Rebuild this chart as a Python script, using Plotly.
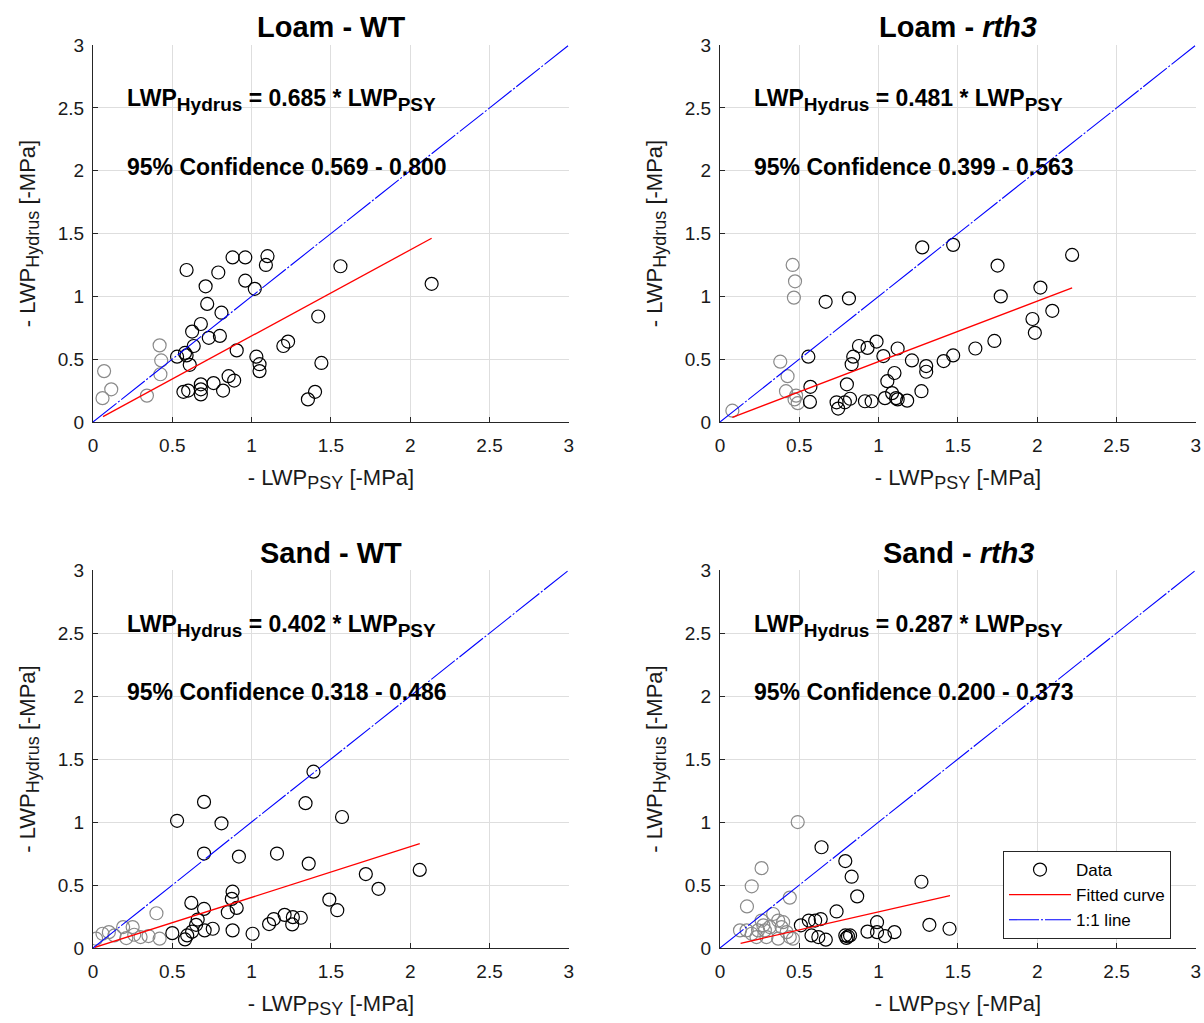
import plotly.graph_objects as go

# ---------------- data ----------------
titles = ["<b>Loam - WT</b>", "<b>Loam - <i>rth3</i></b>", "<b>Sand - WT</b>", "<b>Sand - <i>rth3</i></b>"]
slopes = [0.685, 0.481, 0.402, 0.287]
conf_lo = ["0.569", "0.399", "0.318", "0.200"]
conf_hi = ["0.800", "0.563", "0.486", "0.373"]
fit_x_range = [[0.063, 2.135], [0.078, 2.22], [0.01, 2.06], [0.13, 1.45]]

# Loam - WT
lwt_grey_x = [0.07, 0.115, 0.06, 0.42, 0.43, 0.425, 0.34]
lwt_grey_y = [0.405, 0.26, 0.19, 0.61, 0.49, 0.38, 0.21]
lwt_x = [0.59, 0.88, 0.96, 1.10, 1.09, 1.56, 2.135, 0.79, 0.96, 1.02, 0.71, 0.72, 0.81, 0.68, 0.625,
         0.73, 0.80, 0.635, 0.58, 0.53, 0.59, 0.61, 0.906, 1.42, 1.23, 1.20, 1.03, 1.05, 1.05, 1.44,
         0.855, 0.89, 0.76, 0.82, 0.68, 0.68, 0.68, 0.60, 0.57, 1.40, 1.355]
lwt_y = [1.21, 1.31, 1.31, 1.32, 1.25, 1.24, 1.10, 1.19, 1.125, 1.06, 1.08, 0.94, 0.87, 0.78, 0.72,
         0.67, 0.685, 0.605, 0.55, 0.52, 0.53, 0.455, 0.57, 0.84, 0.64, 0.605, 0.52, 0.46, 0.405, 0.47,
         0.365, 0.33, 0.31, 0.25, 0.30, 0.26, 0.22, 0.25, 0.24, 0.24, 0.18]

# Loam - rth3
lr_grey_x = [0.458, 0.473, 0.466, 0.38, 0.426, 0.416, 0.48, 0.47, 0.49, 0.078]
lr_grey_y = [1.25, 1.12, 0.99, 0.48, 0.365, 0.245, 0.21, 0.18, 0.15, 0.09]
lr_x = [1.275, 1.47, 2.22, 1.75, 1.77, 2.02, 2.095, 1.97, 1.985, 1.73, 1.61, 1.47, 1.41, 1.21, 1.12,
        0.987, 0.93, 0.876, 0.84, 0.83, 1.03, 1.30, 1.30, 1.10, 1.055, 0.80, 1.085, 1.27, 1.04, 1.11,
        1.12, 1.18, 0.956, 0.914, 0.82, 0.787, 0.735, 0.745, 0.567, 0.57, 0.557, 0.666, 0.813]
lr_y = [1.39, 1.41, 1.33, 1.245, 1.00, 1.07, 0.885, 0.82, 0.71, 0.645, 0.585, 0.53, 0.485, 0.49, 0.585,
        0.64, 0.59, 0.605, 0.52, 0.46, 0.525, 0.445, 0.40, 0.39, 0.325, 0.30, 0.23, 0.245, 0.19, 0.19,
        0.18, 0.17, 0.165, 0.165, 0.185, 0.157, 0.157, 0.107, 0.16, 0.28, 0.52, 0.957, 0.984]

# Sand - WT
swt_grey_x = [0.40, 0.19, 0.25, 0.10, 0.06, 0.02, 0.21, 0.30, 0.35, 0.42, 0.135, 0.26]
swt_grey_y = [0.276, 0.166, 0.166, 0.126, 0.113, 0.074, 0.079, 0.087, 0.095, 0.074, 0.10, 0.105]
swt_x = [1.39, 0.70, 1.34, 0.53, 0.81, 1.57, 0.70, 0.92, 1.16, 1.36, 1.72, 2.06, 1.80, 1.49, 1.54,
         0.88, 0.875, 0.906, 0.85, 0.62, 0.70, 0.66, 0.65, 0.625, 0.594, 0.58, 0.704, 0.755, 0.88,
         0.50, 1.006, 1.11, 1.14, 1.208, 1.26, 1.31, 1.256]
swt_y = [1.40, 1.16, 1.15, 1.01, 0.99, 1.04, 0.75, 0.726, 0.75, 0.67, 0.587, 0.62, 0.47, 0.384, 0.30,
         0.447, 0.39, 0.318, 0.284, 0.358, 0.31, 0.226, 0.184, 0.13, 0.10, 0.068, 0.14, 0.153, 0.14,
         0.118, 0.113, 0.19, 0.23, 0.263, 0.245, 0.24, 0.187]

# Sand - rth3
sr_grey_x = [0.49, 0.262, 0.20, 0.17, 0.44, 0.126, 0.168, 0.23, 0.262, 0.283, 0.293, 0.335, 0.367,
             0.388, 0.42, 0.367, 0.44, 0.46, 0.314, 0.24, 0.20, 0.398, 0.273]
sr_grey_y = [1.00, 0.634, 0.49, 0.33, 0.40, 0.14, 0.14, 0.087, 0.218, 0.14, 0.087, 0.27, 0.218,
             0.166, 0.126, 0.074, 0.087, 0.074, 0.166, 0.14, 0.113, 0.205, 0.18]
sr_x = [0.64, 0.79, 0.83, 0.865, 0.735, 1.27, 1.32, 1.447, 0.99, 0.93, 0.99, 1.04, 1.10, 0.79, 0.807,
        0.797, 0.82, 0.51, 0.56, 0.60, 0.635, 0.577, 0.62, 0.667]
sr_y = [0.80, 0.69, 0.566, 0.41, 0.29, 0.526, 0.184, 0.153, 0.205, 0.13, 0.126, 0.095, 0.126, 0.10, 0.092,
        0.08, 0.10, 0.18, 0.218, 0.218, 0.23, 0.10, 0.087, 0.066]

grey_x = [lwt_grey_x, lr_grey_x, swt_grey_x, sr_grey_x]
grey_y = [lwt_grey_y, lr_grey_y, swt_grey_y, sr_grey_y]
data_x = [lwt_x, lr_x, swt_x, sr_x]
data_y = [lwt_y, lr_y, swt_y, sr_y]

tick_vals = [0, 0.5, 1, 1.5, 2, 2.5, 3]
tick_text = ["0", "0.5", "1", "1.5", "2", "2.5", "3"]
one_to_one = [0, 3]

# ---------------- layout geometry ----------------
W, H = 1204, 1023


def px_x(p):
    return p / W


def px_y(p):
    return 1 - p / H


x_doms = [[px_x(93), px_x(569)], [px_x(720), px_x(1196)]]
y_doms = [[px_y(422), px_y(45)], [px_y(948), px_y(570)]]
title_y = [px_y(27), px_y(553)]

FONT = "Liberation Sans, Arial, sans-serif"
SUB_AX = '<sub><span style="font-size:18px">%s</span></sub>'
SUB_EQ = '<sub><span style="font-size:19px">%s</span></sub>'

fig = go.Figure()
layout = dict(
    width=W, height=H, margin=dict(l=0, r=0, t=0, b=0),
    paper_bgcolor="white", plot_bgcolor="white",
    font=dict(family=FONT, color="#262626", size=18),
    annotations=[],
)

for i in range(4):
    r, c = divmod(i, 2)
    suf = "" if i == 0 else str(i + 1)
    xa, ya = "x" + suf, "y" + suf
    show = (i == 3)
    fig.add_trace(go.Scatter(x=grey_x[i], y=grey_y[i], mode="markers", xaxis=xa, yaxis=ya,
                             marker=dict(symbol="circle-open", size=13, color="#8a8a8a", line=dict(width=1.2)),
                             showlegend=False))
    fig.add_trace(go.Scatter(x=data_x[i], y=data_y[i], mode="markers", xaxis=xa, yaxis=ya, name="Data",
                             marker=dict(symbol="circle-open", size=13, color="black", line=dict(width=1.2)),
                             showlegend=show))
    fx = fit_x_range[i]
    fig.add_trace(go.Scatter(x=fx, y=[slopes[i] * v for v in fx], mode="lines", xaxis=xa, yaxis=ya,
                             name="Fitted curve", line=dict(color="red", width=1.3), showlegend=show))
    fig.add_trace(go.Scatter(x=one_to_one, y=one_to_one, mode="lines", xaxis=xa, yaxis=ya,
                             name="1:1 line", line=dict(color="blue", width=1.1, dash="30px,2px,2px,2px"),
                             showlegend=show))

    axis_common = dict(range=[0, 3.001], tickvals=tick_vals, ticktext=tick_text, showgrid=True,
                       gridcolor="#dedede", gridwidth=1, zeroline=False, showline=True,
                       linecolor="#262626", linewidth=1, ticks="inside", ticklen=5,
                       tickcolor="#262626", tickfont=dict(size=19, family=FONT, color="#1a1a1a"),
                       automargin=False, fixedrange=True)
    layout["xaxis" + suf] = dict(axis_common, domain=x_doms[c], anchor=ya, ticklabelstandoff=6,
                                 title=dict(text="- LWP" + SUB_AX % "PSY" + " [-MPa]",
                                            font=dict(size=22, color="#1a1a1a"), standoff=14))
    layout["yaxis" + suf] = dict(axis_common, domain=y_doms[r], anchor=xa, ticklabelstandoff=4,
                                 title=dict(text="- LWP" + SUB_AX % "Hydrus" + " [-MPa]",
                                            font=dict(size=22, color="#1a1a1a"), standoff=16))

    layout["annotations"].append(dict(text=titles[i], xref="paper", yref="paper",
                                      x=(x_doms[c][0] + x_doms[c][1]) / 2, y=title_y[r],
                                      xanchor="center", yanchor="middle", showarrow=False,
                                      font=dict(size=29, family=FONT, color="black")))
    layout["annotations"].append(dict(
        text="<b>LWP" + SUB_EQ % "Hydrus" + " = %.3f * LWP" % slopes[i] + SUB_EQ % "PSY" + "</b>",
        xref=xa, yref=ya, x=0.2, y=2.56, xanchor="left", yanchor="middle", showarrow=False,
        font=dict(size=23, family=FONT, color="black")))
    layout["annotations"].append(dict(
        text="<b>95%% Confidence %s - %s</b>" % (conf_lo[i], conf_hi[i]),
        xref=xa, yref=ya, x=0.2, y=2.03, xanchor="left", yanchor="middle", showarrow=False,
        font=dict(size=23, family=FONT, color="black")))

layout["legend"] = dict(x=px_x(1003), y=px_y(851), xanchor="left", yanchor="top",
                        bgcolor="white", bordercolor="#262626", borderwidth=1,
                        font=dict(size=17, family=FONT, color="black"),
                        itemwidth=62, tracegroupgap=0)
fig.update_layout(**layout)
fig.write_html("out.html", config={"displayModeBar": False},
               post_script="document.body.style.margin='0';document.body.style.overflow='hidden';")
